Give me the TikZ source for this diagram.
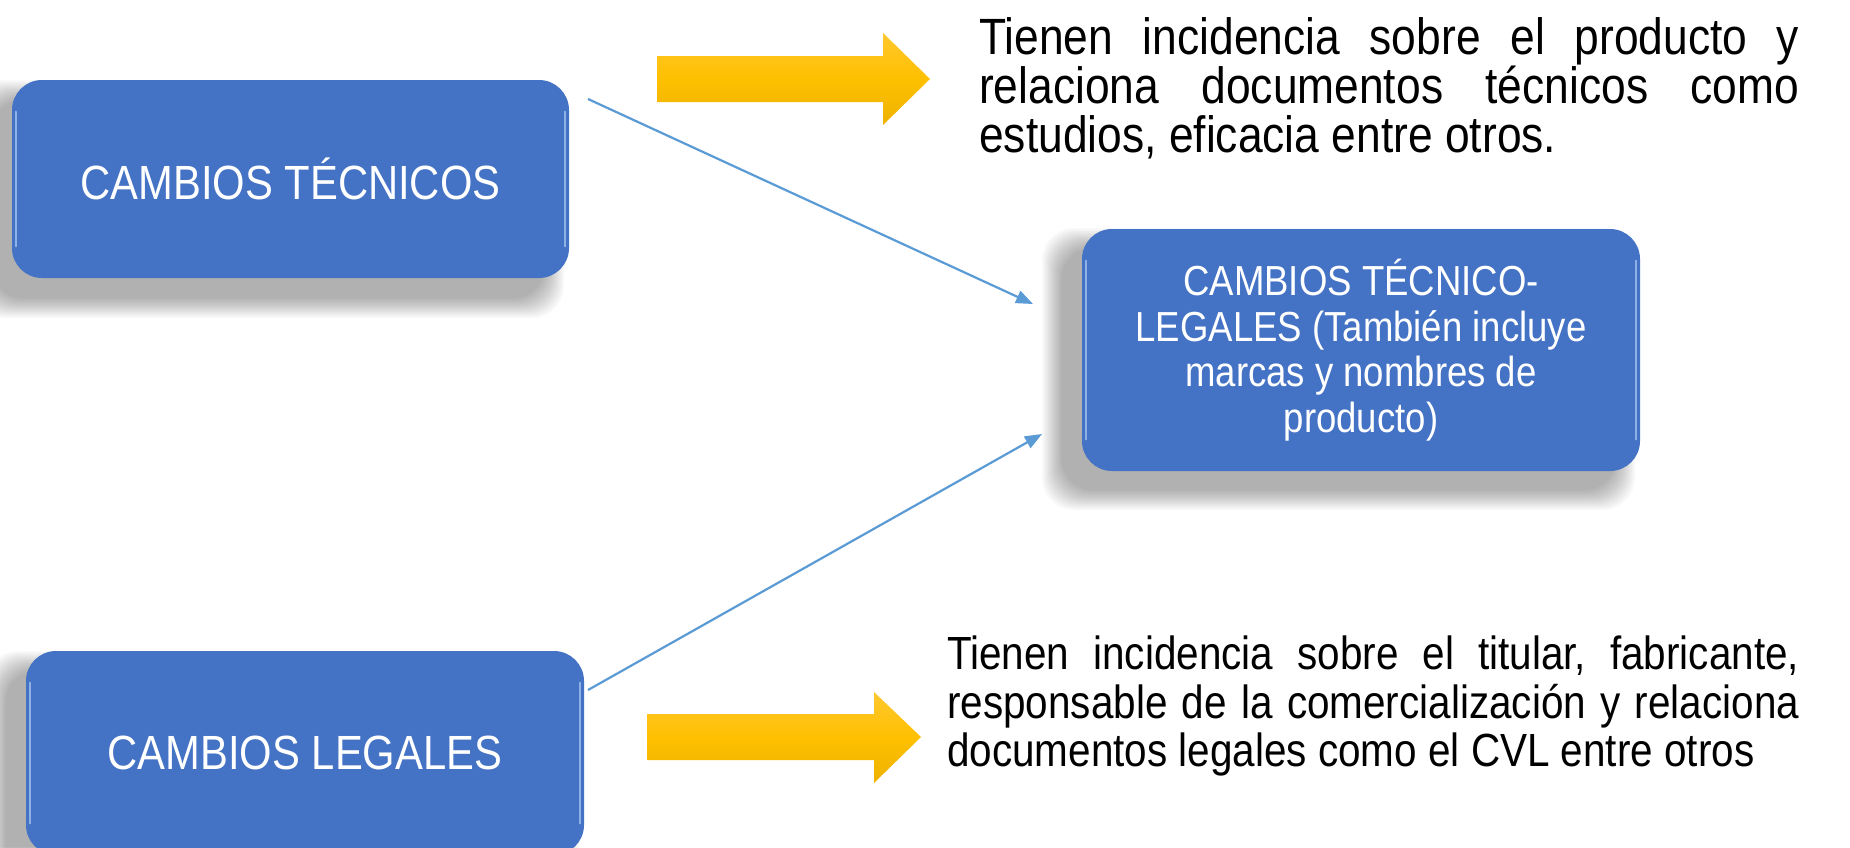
\documentclass[tikz,border=0pt]{standalone}
\usepackage{fontspec}
\setmainfont{Liberation Sans}[FakeStretch=0.87]
\usetikzlibrary{arrows.meta}
\definecolor{boxblue}{HTML}{4472C4}
\definecolor{lineblue}{HTML}{5B9BD5}
\definecolor{ytop}{HTML}{FFC72E}
\definecolor{ymid}{HTML}{FFC000}
\definecolor{ybot}{HTML}{EDB200}
\definecolor{hilite}{HTML}{A9C8F2}
\newcommand\boxshadow[4]{%
  \foreach \k in {0,...,13}{%
    \fill[black,opacity=0.023,rounded corners=32pt]
      ({#1-20+1.5*\k},{#2-20+1.5*\k}) rectangle ({#3+20-1.5*\k},{#4+20-1.5*\k});
  }%
}
\newcommand\jline[2]{\hbox to #1{#2}}
\tikzset{
  bluebox/.style={fill=boxblue, rounded corners=30pt, text=white, align=center, inner sep=0pt},
  conn/.style={draw=lineblue, line width=2.2pt, -{Triangle[length=17pt,width=13pt]}},
  bigarrow/.style={top color=ytop, bottom color=ybot, middle color=ymid},
  hl/.style={draw=hilite, line width=2.5pt, line cap=round, opacity=0.75},
  desc/.style={anchor=north west, inner sep=0pt, text=black}
}
\begin{document}
\begin{tikzpicture}[x=1pt,y=-1pt]
\useasboundingbox (0,0) rectangle (1850,847);
\fill[white] (0,0) rectangle (1850,847);

% shadows
\boxshadow{-8}{100}{544}{298}
\boxshadow{1062}{248}{1615}{490}
\boxshadow{6}{671}{559}{875}

% boxes
\node[bluebox, minimum width=557pt, minimum height=198pt, font=\fontsize{48}{50}\selectfont] (tec) at (290.5,179) {CAMBIOS TÉCNICOS};
\node[bluebox, minimum width=558pt, minimum height=242pt, font=\fontsize{42}{45.6}\selectfont] (tl) at (1361,350) {CAMBIOS TÉCNICO-\\LEGALES (También incluye\\marcas y nombres de\\producto)};
\node[bluebox, minimum width=558pt, minimum height=204pt, font=\fontsize{48}{50}\selectfont] (leg) at (305,753) {CAMBIOS LEGALES};

% edge highlights
\foreach \n in {tec,tl,leg}{
  \draw[hl] ([xshift=4pt,yshift=-32pt]\n.north west) -- ([xshift=4pt,yshift=32pt]\n.south west);
  \draw[hl] ([xshift=-4pt,yshift=-32pt]\n.north east) -- ([xshift=-4pt,yshift=32pt]\n.south east);
}

% connectors
\coordinate (s1) at (588,99);
\coordinate (e1) at (1033,304);
\coordinate (s2) at (588,690);
\coordinate (e2) at (1042,434);
\draw[conn] (s1) -- (e1);
\draw[conn] (s2) -- (e2);

% yellow arrows
\shade[bigarrow] (657,56) -- (883,56) -- (883,33) -- (930,79) -- (883,125) -- (883,102) -- (657,102) -- cycle;
\shade[bigarrow] (647,714) -- (874,714) -- (874,692) -- (921,737) -- (874,783) -- (874,760) -- (647,760) -- cycle;

% descriptions
\node[desc, font=\fontsize{51}{49}\selectfont] (t1) at (979,17)
  {\vbox{%
   \jline{820pt}{Tienen\hfill incidencia\hfill sobre\hfill el\hfill producto\hfill y}
   \jline{820pt}{relaciona\hfill documentos\hfill técnicos\hfill como}
   \hbox{estudios, eficacia entre otros.}}};
\node[desc, font=\fontsize{46.5}{48.5}\selectfont] (t2) at (947,636)
  {\vbox{%
   \jline{852pt}{Tienen\hfill incidencia\hfill sobre\hfill el\hfill titular,\hfill fabricante,}
   \jline{852pt}{responsable de la comercialización y relaciona}
   \hbox{documentos legales como el CVL entre otros}}};
\end{tikzpicture}
\end{document}
